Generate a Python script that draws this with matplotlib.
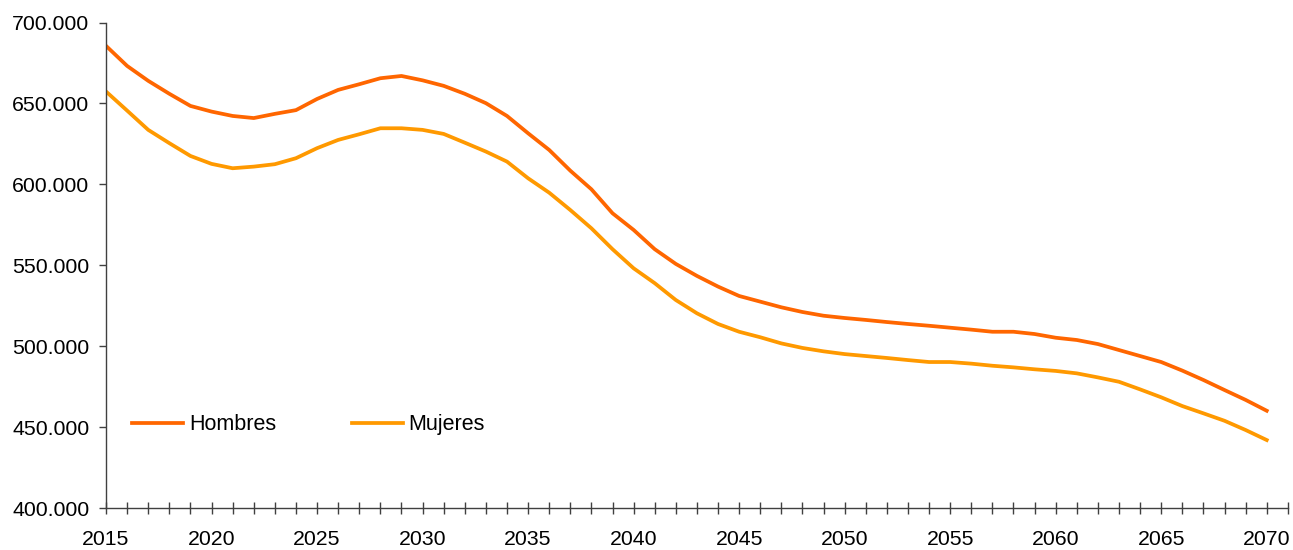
import matplotlib
matplotlib.use("Agg")
import matplotlib.pyplot as plt
from matplotlib.ticker import FuncFormatter, MultipleLocator

plt.rcParams['font.family'] = ['Liberation Sans', 'DejaVu Sans']

years = list(range(2015, 2071))

# poblacion por sexo
hombres = [685600, 673200, 664000, 656000, 648500, 645000, 642300, 641000, 643600, 645900,
           652800, 658400, 661900, 665600, 667000, 664300, 660900, 656000, 650200, 642300,
           631600, 621300, 608500, 597000, 582200, 571900, 560000, 550900, 543500, 536900,
           531100, 527600, 524100, 521200, 518900, 517500, 516300, 515000, 513800, 512700,
           511500, 510300, 509000, 509000, 507600, 505300, 503900, 501400, 497700, 494000,
           490300, 485000, 479200, 473000, 466900, 460200]
mujeres = [657400, 645600, 633700, 625500, 617600, 612700, 610000, 611000, 612500, 616200,
           622400, 627500, 631000, 634700, 634700, 633700, 631200, 625800, 620300, 614100,
           603800, 594900, 584200, 572900, 560000, 548200, 539000, 528600, 520400, 513800,
           509000, 505600, 501800, 499000, 496900, 495200, 494000, 492800, 491500, 490300,
           490300, 489300, 488000, 487000, 485800, 484800, 483300, 480800, 478100, 473400,
           468500, 463100, 458600, 454000, 448300, 442100]

fig = plt.figure(figsize=(12.93, 5.5), dpi=100)
ax = fig.add_axes([0.082, 0.076, 0.914, 0.883])

ax.plot(years, hombres, color='#FF6600', lw=2.7, label='Hombres')
ax.plot(years, mujeres, color='#FF9900', lw=2.7, label='Mujeres')

ax.set_xlim(2015, 2071)
ax.set_ylim(400000, 700000)

ax.xaxis.set_major_locator(MultipleLocator(5))
ax.xaxis.set_minor_locator(MultipleLocator(1))
ax.yaxis.set_major_locator(MultipleLocator(50000))
ax.yaxis.set_major_formatter(FuncFormatter(lambda v, p: f"{int(v):,}".replace(',', '.')))

for s in ['top', 'right']:
    ax.spines[s].set_visible(False)
for s in ['left', 'bottom']:
    ax.spines[s].set_color('#404040')
    ax.spines[s].set_linewidth(1.0)

ax.tick_params(axis='x', which='both', direction='inout', length=8, width=1,
               color='#404040', labelsize=15.3, pad=12)
ax.tick_params(axis='y', direction='out', length=5, width=1, color='#404040',
               labelsize=15.3, pad=7)

ax.legend(loc='center left', bbox_to_anchor=(0.022, 0.172), ncol=2, frameon=False,
          fontsize=15.5, borderpad=0, borderaxespad=0, handlelength=2.37,
          handletextpad=0.28, columnspacing=3.5)

fig.savefig('out.png', dpi=100)
